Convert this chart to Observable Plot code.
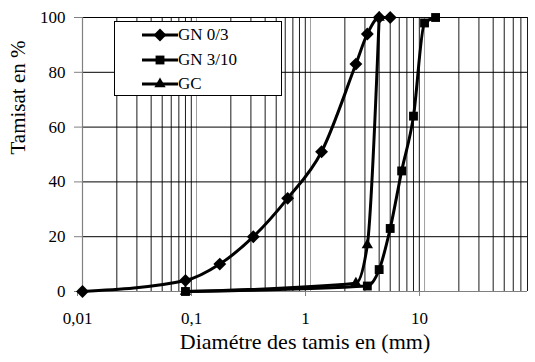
<!DOCTYPE html>
<html>
<head>
<meta charset="utf-8">
<script src="https://cdn.jsdelivr.net/npm/d3@7"></script>
<script src="https://cdn.jsdelivr.net/npm/@observablehq/plot@0.6"></script>
<style>
  html, body { margin: 0; padding: 0; background: #fff; }
  #wrap { position: relative; width: 535px; height: 362px; font-family: "Times New Roman", Times, "Liberation Serif", "DejaVu Serif", serif; }
  #legend { position: absolute; left: 114px; top: 21px; width: 168px; height: 75px; box-sizing: border-box;
            border: 1px solid #000; background: #fff; padding-top: 1px; }
  .row { display: flex; align-items: center; height: 24.5px; padding-left: 27px; font-size: 17px; color: #000; font-family: inherit; }
  .row svg { display: block; margin-right: 0px; }
  svg text { font-family: "Times New Roman", Times, "Liberation Serif", "DejaVu Serif", serif; }
</style>
</head>
<body>
<div id="wrap"></div>
<script>
// ---- data ----
const seriesNames = ["GN 0/3", "GN 3/10", "GC"];
const sievesGN03 = [0.01, 0.08, 0.16, 0.315, 0.63, 1.25, 2.5, 3.15, 4, 5];
const passGN03   = [0, 4, 10, 20, 34, 51, 83, 94, 100, 100];
const sievesGN310 = [0.08, 3.15, 4, 5, 6.3, 8, 10, 12.5];
const passGN310   = [0, 2, 8, 23, 44, 64, 98, 100];
const sievesGC = [0.08, 2.5, 3.15, 4];
const passGC   = [0, 3, 17, 100];
const xTickValues = [0.01, 0.1, 1, 10];
const yTickValues = [0, 20, 40, 60, 80, 100];
const xLabel = "Diamétre des tamis en (mm)";
const yLabel = "Tamisat en %";

// ---- build table ----
const symbols = {"GN 0/3": "diamond2", "GN 3/10": "square", "GC": "triangle"};
const radii = {"GN 0/3": 5.8, "GN 3/10": 5.0, "GC": 4.2};
const rows = [];
[[seriesNames[0], sievesGN03, passGN03], [seriesNames[1], sievesGN310, passGN310], [seriesNames[2], sievesGC, passGC]]
  .forEach(([name, xs, ys]) => xs.forEach((x, i) => rows.push({series: name, size: x, pass: ys[i]})));

const minorTicks = [];
for (const d of [0.01, 0.1, 1, 10]) for (let k = 2; k <= 9; k++) { const v = +(d * k).toPrecision(3); if (v <= 80) minorTicks.push(v); }

const serif = "'Times New Roman', Times, 'Liberation Serif', 'DejaVu Serif', serif";
const chart = Plot.plot({
  width: 535, height: 362,
  marginLeft: 82, marginRight: 8, marginTop: 17, marginBottom: 71,
  style: {fontFamily: serif, fontSize: "15px", background: "#fff", color: "#000"},
  x: {type: "log", domain: [0.01, 80]},
  y: {domain: [0, 100]},
  marks: [
    Plot.ruleX(minorTicks, {stroke: "#1a1a1a", strokeWidth: 1}),
    Plot.ruleX(xTickValues, {stroke: "#a0a0a0", strokeWidth: 1}),
    Plot.ruleY([20, 40, 60, 80, 100], {stroke: "#000", strokeWidth: 1}),
    Plot.ruleY([0], {stroke: "#808080", strokeWidth: 1}),
    Plot.ruleX([0.01], {stroke: "#808080", strokeWidth: 1.2}),
    Plot.axisY({ticks: yTickValues, tickSize: 8, tickPadding: 9, stroke: "#808080", fill: "#000", label: null, fontSize: 17}),
    Plot.axisX({ticks: xTickValues, tickSize: 5, tickPadding: 15, stroke: "#808080", fill: "#000", dx: -5, label: null, fontSize: 17,
                tickFormat: d => String(d).replace(".", ",")}),
    Plot.line(rows, {x: "size", y: "pass", z: "series", stroke: "#000", strokeWidth: 3, curve: "monotone-x"}),
    ...seriesNames.map(n => Plot.dot(rows.filter(r => r.series === n), {x: "size", y: "pass", symbol: () => symbols[n], r: radii[n], fill: "#000", stroke: "none"})),
    Plot.text([yLabel], {frameAnchor: "left", dx: -64, rotate: -90, fontSize: 21, fill: "#000"}),
    Plot.text([xLabel], {frameAnchor: "bottom", dy: 57, fontSize: 22, fill: "#000"})
  ]
});
const wrap = document.getElementById("wrap");
wrap.appendChild(chart);

// ---- legend ----
const symMap = {"diamond2": d3.symbolDiamond2, "square": d3.symbolSquare, "triangle": d3.symbolTriangle};
const legend = document.createElement("div");
legend.id = "legend";
for (const n of seriesNames) {
  const row = document.createElement("div");
  row.className = "row";
  const path = d3.symbol(symMap[symbols[n]], Math.PI * radii[n] * radii[n])();
  row.innerHTML = `<svg width="36" height="16"><line x1="0" y1="8" x2="36" y2="8" stroke="#000" stroke-width="3"/><path d="${path}" transform="translate(18,8)" fill="#000"/></svg><span>${n}</span>`;
  legend.appendChild(row);
}
wrap.appendChild(legend);
</script>
</body>
</html>
